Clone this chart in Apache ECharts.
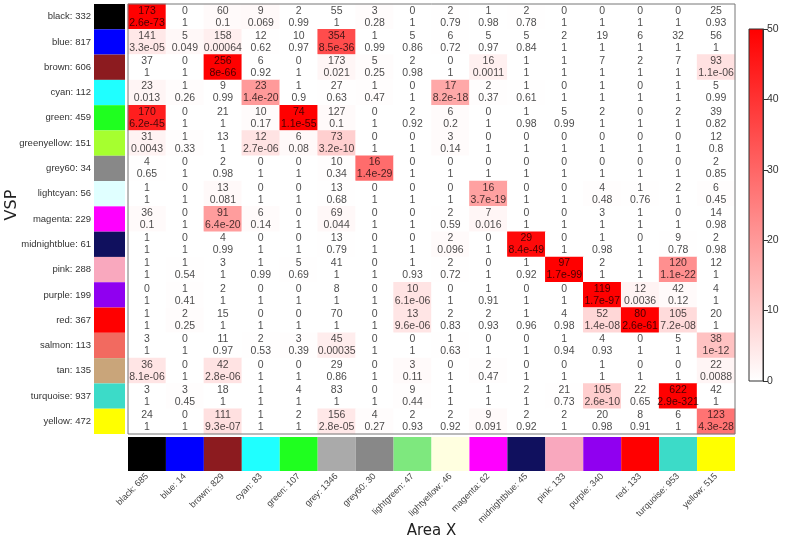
<!DOCTYPE html>
<html>
<head>
<meta charset="utf-8">
<script src="https://cdn.jsdelivr.net/npm/echarts@6/dist/echarts.min.js"></script>
<style>html,body{margin:0;padding:0;background:#fff}#c{width:790px;height:544px}</style>
</head>
<body>
<div id="c"></div>
<script>
const rowNames = ['black','blue','brown','cyan','green','greenyellow','grey60','lightcyan','magenta','midnightblue','pink','purple','red','salmon','tan','turquoise','yellow'];
const rowSizes = [332,817,606,112,459,151,34,56,229,61,288,199,367,113,135,937,472];
const rowColors = ['#000000','#0000FF','#8C1B1F','#1FFFFF','#1FFF1F','#A6FF2F','#888888','#E0FFFF','#FF00FF','#10105E','#F9A8BE','#9000F0','#FF0000','#F26A60','#C9A57A','#3CDBC8','#FFFF00'];
const colNames = ['black','blue','brown','cyan','green','grey','grey60','lightgreen','lightyellow','magenta','midnightblue','pink','purple','red','turquoise','yellow'];
const colSizes = [685,14,829,83,107,1346,30,47,46,62,45,133,340,133,953,515];
const colColors = ['#000000','#0000FF','#8C1B1F','#1FFFFF','#1FFF1F','#AAAAAA','#888888','#7EE87E','#FFFFE0','#FF00FF','#10105E','#F9A8BE','#9000F0','#FF0000','#3CDBC8','#FFFF00'];
const counts = [
 [173,0,60,9,2,55,3,0,2,1,2,0,0,0,0,25],
 [141,5,158,12,10,354,1,5,6,5,5,2,19,6,32,56],
 [37,0,256,6,0,173,5,2,0,16,1,1,7,2,7,93],
 [23,1,9,23,1,27,1,0,17,2,1,0,1,0,1,5],
 [170,0,21,10,74,127,0,2,6,0,1,5,2,0,2,39],
 [31,1,13,12,6,73,0,0,3,0,0,0,0,0,0,12],
 [4,0,2,0,0,10,16,0,0,0,0,0,0,0,0,2],
 [1,0,13,0,0,13,0,0,0,16,0,0,4,1,2,6],
 [36,0,91,6,0,69,0,0,2,7,0,0,3,1,0,14],
 [1,0,4,0,0,13,0,0,2,0,29,0,1,0,9,2],
 [1,1,3,1,5,41,0,1,2,0,1,97,2,1,120,12],
 [0,1,2,0,0,8,0,10,0,1,0,0,119,12,42,4],
 [1,2,15,0,0,70,0,13,2,2,1,4,52,80,105,20],
 [3,0,11,2,3,45,0,0,1,0,0,1,4,0,5,38],
 [36,0,42,0,0,29,0,3,0,2,0,0,1,0,0,22],
 [3,3,18,1,4,83,0,9,1,1,2,21,105,22,622,42],
 [24,0,111,1,2,156,4,2,2,9,2,2,20,8,6,123]
];
const pvalues = [
 ['2.6e-73','1','0.1','0.069','0.99','1','0.28','1','0.79','0.98','0.78','1','1','1','1','0.93'],
 ['3.3e-05','0.049','0.00064','0.62','0.97','8.5e-36','0.99','0.86','0.72','0.97','0.84','1','1','1','1','1'],
 ['1','1','8e-66','0.92','1','0.021','0.25','0.98','1','0.0011','1','1','1','1','1','1.1e-06'],
 ['0.013','0.26','0.99','1.4e-20','0.9','0.63','0.47','1','8.2e-18','0.37','0.61','1','1','1','1','0.99'],
 ['6.2e-45','1','1','0.17','1.1e-55','0.1','1','0.92','0.2','1','0.98','0.99','1','1','1','0.82'],
 ['0.0043','0.33','1','2.7e-06','0.08','3.2e-10','1','1','0.14','1','1','1','1','1','1','0.8'],
 ['0.65','1','0.98','1','1','0.34','1.4e-29','1','1','1','1','1','1','1','1','0.85'],
 ['1','1','0.081','1','1','0.68','1','1','1','3.7e-19','1','1','0.48','0.76','1','0.45'],
 ['0.1','1','6.4e-20','0.14','1','0.044','1','1','0.59','0.016','1','1','1','1','1','0.98'],
 ['1','1','0.99','1','1','0.79','1','1','0.096','1','8.4e-49','1','0.98','1','0.78','0.98'],
 ['1','0.54','1','0.99','0.69','1','1','0.93','0.72','1','0.92','1.7e-99','1','1','1.1e-22','1'],
 ['1','0.41','1','1','1','1','1','6.1e-06','1','0.91','1','1','1.7e-97','0.0036','0.12','1'],
 ['1','0.25','1','1','1','1','1','9.6e-06','0.83','0.93','0.96','0.98','1.4e-08','2.6e-61','7.2e-08','1'],
 ['1','1','0.97','0.53','0.39','0.00035','1','1','0.63','1','1','0.94','0.93','1','1','1e-12'],
 ['8.1e-06','1','2.8e-06','1','1','0.86','1','0.11','1','0.47','1','1','1','1','1','0.0088'],
 ['1','0.45','1','1','1','1','1','0.44','1','1','1','0.73','2.6e-10','0.65','2.9e-321','1'],
 ['1','1','9.3e-07','1','1','2.8e-05','0.27','0.93','0.92','0.091','0.92','1','0.98','0.91','1','4.3e-28']
];
const scaleTicks = [0, 10, 20, 30, 40, 50];

const rowLabels = rowNames.map((n, i) => n + ': ' + rowSizes[i]);
const colLabels = colNames.map((n, i) => n + ': ' + colSizes[i]);
const cellData = [];
for (let r = 0; r < rowNames.length; r++) {
  for (let c = 0; c < colNames.length; c++) {
    const p = parseFloat(pvalues[r][c]);
    let v = p > 0 ? -Math.log10(p) : 50;
    if (v > 50) v = 50;
    if (v < 0) v = 0;
    cellData.push([c, r, v]);
  }
}

const chart = echarts.init(document.getElementById('c'), null, {renderer: 'canvas'});
const cellFont = 'Liberation Sans, Arial, sans-serif';
chart.setOption({
  animation: false,
  backgroundColor: '#fff',
  grid: [
    {left: 128, top: 4, width: 607, height: 430, show: true, borderColor: '#777', borderWidth: 1, backgroundColor: 'transparent', z: 5, outerBoundsMode: 'none', containLabel: false},
    {left: 94, top: 4, width: 31, height: 430, outerBoundsMode: 'none', containLabel: false},
    {left: 128, top: 437, width: 607, height: 34, outerBoundsMode: 'none', containLabel: false},
    {left: 749, top: 29, width: 14, height: 352, show: true, borderColor: '#333', borderWidth: 1, z: 5, outerBoundsMode: 'none', containLabel: false}
  ],
  graphic: [
    {type: 'text', x: 4, y: 205, rotation: Math.PI / 2, z: 10,
      style: {text: 'VSP', font: '16px "DejaVu Sans"', fill: '#222', align: 'center', verticalAlign: 'top'}}
  ],
  xAxis: [
    {gridIndex: 0, type: 'category', data: colLabels, axisLine: {show: false}, axisTick: {show: false}, axisLabel: {show: false}, splitLine: {show: false}},
    {gridIndex: 1, type: 'value', min: 0, max: 1, show: false},
    {gridIndex: 2, type: 'category', data: colLabels, axisLine: {show: false}, axisTick: {show: false},
      axisLabel: {rotate: 45, fontSize: 9, color: '#444', fontFamily: cellFont, margin: 4, interval: 0},
      name: 'Area X', nameLocation: 'middle', nameGap: 53, nameMoveOverlap: false,
      nameTextStyle: {fontSize: 15, color: '#222', fontFamily: 'DejaVu Sans'}},
    {gridIndex: 3, type: 'category', data: [''], show: false}
  ],
  yAxis: [
    {gridIndex: 0, type: 'category', data: rowLabels, inverse: true, axisLine: {show: false}, axisTick: {show: false}, axisLabel: {show: false}, splitLine: {show: false}},
    {gridIndex: 1, type: 'category', data: rowLabels, inverse: true, axisLine: {show: false}, axisTick: {show: false},
      axisLabel: {fontSize: 9.5, color: '#333', fontFamily: cellFont, margin: 3, interval: 0}},
    {gridIndex: 2, type: 'value', min: 0, max: 1, show: false},
    {gridIndex: 3, type: 'value', min: 0, max: 50, interval: 10, position: 'right',
      axisLine: {show: true, lineStyle: {color: '#333'}}, axisTick: {show: true, length: 5, lineStyle: {color: '#333'}},
      axisLabel: {fontSize: 10.5, color: '#333', fontFamily: cellFont, margin: 4, customValues: scaleTicks},
      splitLine: {show: false}}
  ],
  visualMap: {
    show: false, type: 'continuous', min: 0, max: 50, dimension: 2, seriesIndex: 0,
    inRange: {color: ['#FFFFFF', '#FF0000']}
  },
  series: [
    {
      type: 'heatmap', xAxisIndex: 0, yAxisIndex: 0, data: cellData,
      label: {
        show: true, fontSize: 10.5, lineHeight: 12, fontFamily: cellFont, color: 'rgba(0,0,0,0.72)',
        formatter: p => counts[p.value[1]][p.value[0]] + '\n' + pvalues[p.value[1]][p.value[0]]
      },
      emphasis: {disabled: true}
    },
    {
      type: 'bar', xAxisIndex: 1, yAxisIndex: 1, barWidth: '100%',
      data: rowColors.map(c => ({value: 1, itemStyle: {color: c}})),
      silent: true
    },
    {
      type: 'bar', xAxisIndex: 2, yAxisIndex: 2, barWidth: '100%',
      data: colColors.map(c => ({value: 1, itemStyle: {color: c}})),
      silent: true
    },
    {
      type: 'bar', xAxisIndex: 3, yAxisIndex: 3, barWidth: '100%',
      data: [50],
      itemStyle: {color: new echarts.graphic.LinearGradient(0, 0, 0, 1, [{offset: 0, color: '#FF0000'}, {offset: 1, color: '#FFFFFF'}])},
      silent: true
    }
  ]
});
</script>
</body>
</html>
